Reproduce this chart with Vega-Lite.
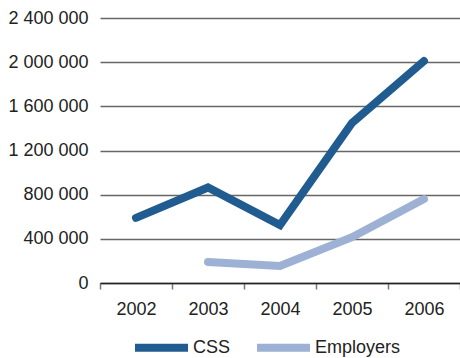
{
  "$schema": "https://vega.github.io/schema/vega-lite/v6.json",
  "width": 360,
  "height": 265,
  "autosize": {"type": "none"},
  "padding": {"left": 100, "top": 18, "right": 0, "bottom": 75},
  "background": "white",
  "config": {
    "locale": {"number": {"decimal": ".", "thousands": " ", "grouping": [3], "currency": ["", ""]}},
    "font": "Liberation Sans",
    "view": {"stroke": null}
  },
  "data": {
    "values": [
      {"year": "2002", "series": "CSS", "value": 590000},
      {"year": "2003", "series": "CSS", "value": 865000},
      {"year": "2004", "series": "CSS", "value": 525000},
      {"year": "2005", "series": "CSS", "value": 1450000},
      {"year": "2006", "series": "CSS", "value": 2010000},
      {"year": "2003", "series": "Employers", "value": 190000},
      {"year": "2004", "series": "Employers", "value": 155000},
      {"year": "2005", "series": "Employers", "value": 415000},
      {"year": "2006", "series": "Employers", "value": 760000}
    ]
  },
  "mark": {"type": "line", "strokeWidth": 8, "strokeCap": "round", "strokeJoin": "miter"},
  "encoding": {
    "x": {
      "field": "year", "type": "ordinal",
      "scale": {"paddingInner": 0, "paddingOuter": 0},
      "axis": {
        "title": null, "labelAngle": 0, "labelFontSize": 18, "labelColor": "#222",
        "domainColor": "#222", "domainWidth": 1.5,
        "tickBand": "extent", "tickSize": 6, "tickColor": "#777", "tickWidth": 1.5,
        "labelPadding": 11, "grid": false
      }
    },
    "y": {
      "field": "value", "type": "quantitative",
      "scale": {"domain": [0, 2400000]},
      "axis": {
        "title": null, "values": [0, 400000, 800000, 1200000, 1600000, 2000000, 2400000],
        "format": ",d", "labelFontSize": 18, "labelColor": "#222",
        "domain": false, "ticks": false, "labelPadding": 12,
        "grid": true, "gridColor": "#666", "gridWidth": 1.3
      }
    },
    "color": {
      "field": "series", "type": "nominal",
      "scale": {"domain": ["CSS", "Employers"], "range": ["#215c91", "#9cb1d3"]},
      "legend": {
        "title": null, "orient": "none", "direction": "horizontal",
        "legendX": 31, "legendY": 299,
        "symbolType": "stroke", "symbolSize": 2809, "symbolStrokeWidth": 8,
        "labelFontSize": 18, "labelColor": "#222", "columnPadding": 10, "labelOffset": 1
      }
    }
  }
}
